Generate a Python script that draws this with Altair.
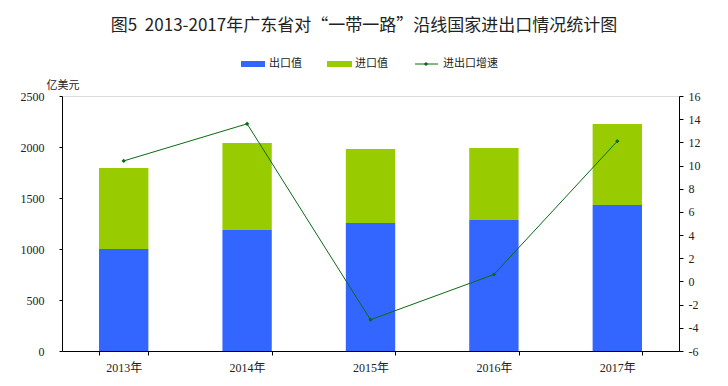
import altair as alt
import pandas as pd

years = ["2013年", "2014年", "2015年", "2016年", "2017年"]
exports = [1000, 1186, 1255, 1284, 1431]
imports = [794, 853, 725, 706, 794]
growth = [10.4, 13.6, -3.3, 0.6, 12.1]

series_names = ["出口值", "进口值"]
colors = ["#3366FF", "#99CC00"]
line_color = "#0A6A12"

FONT = "Liberation Serif, Noto Sans CJK SC"
CJK = "Noto Sans CJK SC"

rows = []
for i, y in enumerate(years):
    rows.append({"year": y, "type": series_names[0], "value": exports[i], "k": 0})
    rows.append({"year": y, "type": series_names[1], "value": imports[i], "k": 1})
bars_df = pd.DataFrame(rows)
line_df = pd.DataFrame({"year": years, "growth": growth})

xenc = alt.X(
    "year:N",
    sort=years,
    scale=alt.Scale(paddingInner=0.6, paddingOuter=0.3),
    axis=alt.Axis(
        title=None, labelAngle=0, tickBand="extent", tickSize=4, tickColor="black",
        domainColor="black", labelFont=FONT, labelFontSize=12, labelColor="#222",
        labelPadding=7,
    ),
)

bars = alt.Chart(bars_df).mark_bar().encode(
    x=xenc,
    y=alt.Y(
        "value:Q", stack="zero",
        scale=alt.Scale(domain=[0, 2500], nice=False),
        axis=alt.Axis(
            title=None, values=[0, 500, 1000, 1500, 2000, 2500], grid=False,
            domainColor="black", tickColor="black", tickSize=3, labelPadding=15,
            labelFont=FONT, labelFontSize=12, labelColor="#222",
            labelExpr="'' + datum.value", labelOverlap=False,
        ),
    ),
    color=alt.Color("type:N", scale=alt.Scale(domain=series_names, range=colors), legend=None),
    order=alt.Order("k:Q"),
)

yr = alt.Y(
    "growth:Q",
    scale=alt.Scale(domain=[-6, 16], nice=False),
    axis=alt.Axis(
        title=None, orient="right", values=list(range(-6, 17, 2)), grid=False,
        domainColor="black", tickColor="black", tickSize=4, labelPadding=5,
        labelFont=FONT, labelFontSize=12, labelColor="#222",
        labelExpr="'' + datum.value", labelOverlap=False, labelBound=False,
    ),
)
base = alt.Chart(line_df).encode(x=alt.X("year:N", sort=years), y=yr)
line = base.mark_line(color=line_color, strokeWidth=1)
pts = base.mark_point(shape="diamond", filled=True, color=line_color, size=18, opacity=1)

def txt(s, x, y, size=11, align="left", font=CJK, color="#222"):
    return alt.Chart(pd.DataFrame({"t": [s]})).mark_text(
        align=align, baseline="middle", fontSize=size, font=font, color=color
    ).encode(text="t:N", x=alt.value(x), y=alt.value(y))

title = txt("图5\u00a0\u00a02013-2017年广东省对“一带一路”沿线国家进出口情况统计图", 302, -70, size=17, align="center", font=CJK)
unit = txt("亿美元", 1, -10, size=11, align="center")

leg_df = pd.DataFrame({"t": [0]})
leg_blue = alt.Chart(leg_df).mark_rect(color=colors[0]).encode(
    x=alt.value(179), x2=alt.value(203), y=alt.value(-35), y2=alt.value(-29))
leg_green = alt.Chart(leg_df).mark_rect(color=colors[1]).encode(
    x=alt.value(265), x2=alt.value(290), y=alt.value(-35), y2=alt.value(-29))
leg_line = alt.Chart(leg_df).mark_rule(color=line_color, strokeWidth=1).encode(
    x=alt.value(353), x2=alt.value(376), y=alt.value(-32))
leg_pt = alt.Chart(leg_df).mark_point(shape="diamond", filled=True, color=line_color, size=18, opacity=1).encode(
    x=alt.value(364), y=alt.value(-32))
leg_t1 = txt("出口值", 207, -32)
leg_t2 = txt("进口值", 293, -32)
leg_t3 = txt("进出口增速", 381, -32)

chart = alt.layer(
    bars, line + pts,
).resolve_scale(y="independent")

chart = alt.layer(
    chart, title, unit, leg_blue, leg_green, leg_line, leg_pt, leg_t1, leg_t2, leg_t3
).properties(
    width=617, height=255,
    autosize=alt.AutoSizeParams(type="none"),
    padding={"left": 54, "top": 88, "right": 40, "bottom": 30},
).configure_view(stroke=None).configure(background="white")

chart.save("out.html", embed_options={"renderer": "svg", "actions": False})
